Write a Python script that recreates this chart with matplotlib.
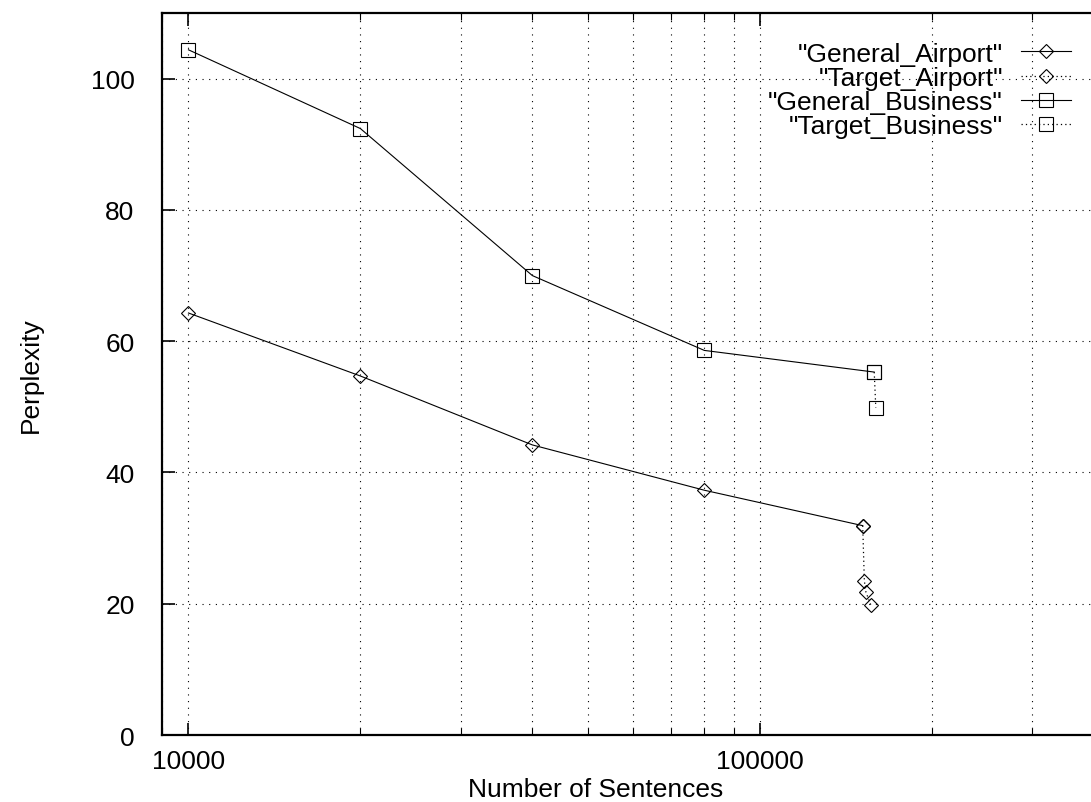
import matplotlib
matplotlib.use('Agg')
import matplotlib.pyplot as plt
from matplotlib.ticker import LogLocator, NullFormatter, FixedLocator, FixedFormatter

plt.rcParams['font.family'] = ['Liberation Sans', 'DejaVu Sans']

sizes = [10000, 20000, 40000, 80000]
general_airport_x = sizes + [151500]
general_airport = [64.3, 54.7, 44.2, 37.3, 31.9]
target_airport_x = [151500, 152500, 153500, 156500]
target_airport = [31.9, 23.5, 21.75, 19.85]
general_business_x = sizes + [158700]
general_business = [104.4, 92.4, 70.0, 58.6, 55.3]
target_business_x = [158700, 159700]
target_business = [55.3, 49.9]

xticks = [10000, 100000]
xticklabels = ["10000", "100000"]
yticks = [0, 20, 40, 60, 80, 100]

fs = 19
fig = plt.figure(figsize=(10.91, 8.03), dpi=100)
ax = fig.add_axes([0.1488, 0.0834, 0.8627, 0.8991])

solid = dict(color='black', lw=0.8, linestyle='-', mfc='none', mec='black', mew=0.8)
dotted = dict(color='black', lw=0.9, linestyle=(0, (1, 2.5)), mfc='none', mec='black', mew=0.8)

ax.plot(general_airport_x, general_airport, marker='D', ms=7.0, label='"General_Airport"', **solid)
ax.plot(target_airport_x, target_airport, marker='D', ms=7.0, label='"Target_Airport"', **dotted)
ax.plot(general_business_x, general_business, marker='s', ms=10, label='"General_Business"', **solid)
ax.plot(target_business_x, target_business, marker='s', ms=10, label='"Target_Business"', **dotted)

ax.set_xscale('log')
ax.set_xlim(9000, 400000)
ax.set_ylim(0, 110)

ax.xaxis.set_major_locator(FixedLocator(xticks))
ax.xaxis.set_major_formatter(FixedFormatter(xticklabels))
ax.xaxis.set_minor_locator(LogLocator(base=10, subs=range(2, 10)))
ax.xaxis.set_minor_formatter(NullFormatter())
ax.set_yticks(yticks)

ax.tick_params(axis='both', which='major', direction='in', length=9, width=1.2,
               top=True, right=True, labelsize=fs)
ax.tick_params(axis='x', which='major', pad=10)
ax.tick_params(axis='y', which='major', pad=20)
ax.tick_params(axis='x', which='minor', direction='in', length=5, width=0.8, top=True)

for s in ax.spines.values():
    s.set_linewidth(1.6)

grid_style = dict(color='black', lw=0.8, linestyle=(0, (1, 5)))
ax.grid(True, which='major', axis='both', **grid_style)
ax.grid(True, which='minor', axis='x', **grid_style)
ax.set_axisbelow(True)

ax.set_xlabel('Number of Sentences', fontsize=fs)
ax.set_ylabel('Perplexity', fontsize=fs)
ax.xaxis.set_label_coords(0.46, -0.058)
ax.yaxis.set_label_coords(-0.127, 0.5)

ax.legend(loc='upper right', bbox_to_anchor=(1071 / 1091, 0.947),
          bbox_transform=fig.transFigure, frameon=False, markerfirst=False,
          fontsize=fs, handlelength=1.9, handletextpad=0.68,
          labelspacing=0.01, borderpad=0, borderaxespad=0)

fig.savefig('out.png', dpi=100)
